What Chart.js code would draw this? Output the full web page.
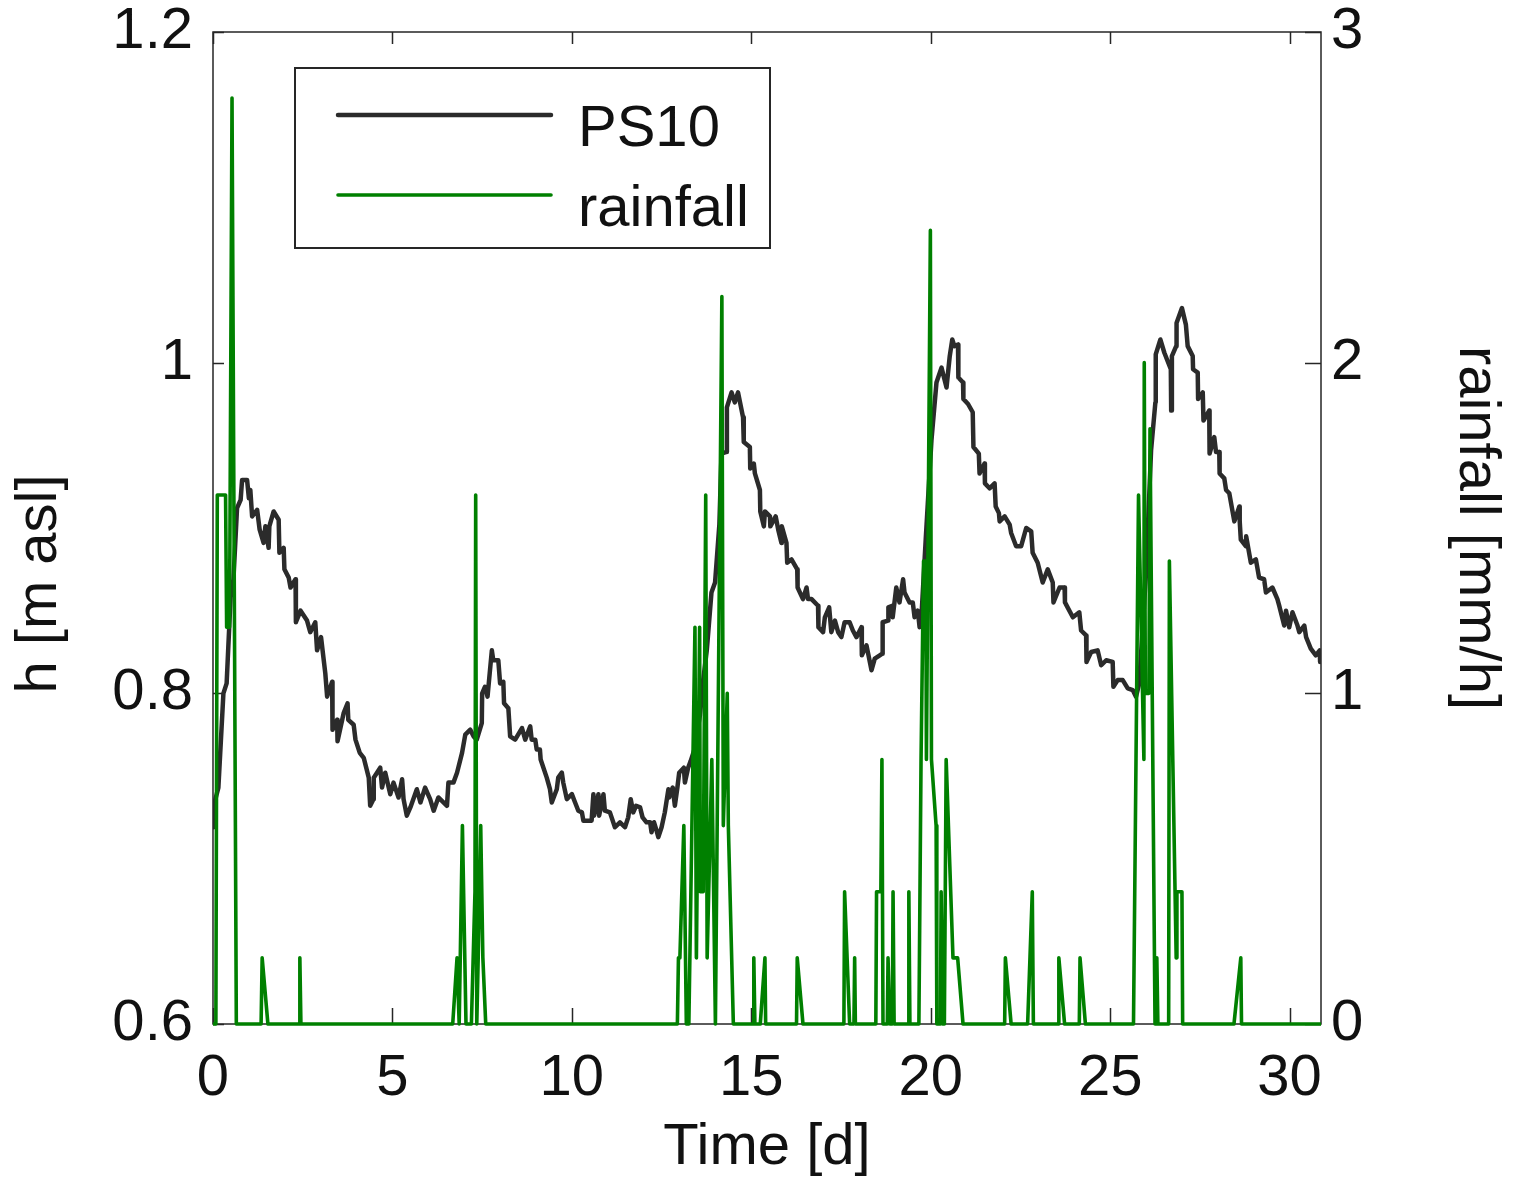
<!DOCTYPE html>
<html>
<head>
<meta charset="utf-8">
<script src="https://cdn.jsdelivr.net/npm/chart.js@4.4.0/dist/chart.umd.min.js"></script>
<style>
html, body { margin: 0; padding: 0; background: #fff; }
#wrap { width: 1526px; height: 1185px; position: relative; }
</style>
</head>
<body>
<div id="wrap"><canvas id="chart"></canvas></div>
<script>
// PS10 water level [m asl] against time [d]
var psDays = [0.01,0.02,0.15,0.29,0.38,0.49,0.57,0.67,0.77,0.81,
  0.95,1.00,1.04,1.09,1.23,1.30,1.41,1.46,1.55,1.57,
  1.69,1.83,1.85,1.97,1.99,2.11,2.16,2.30,2.31,2.44,
  2.62,2.71,2.85,2.90,3.01,3.13,3.18,3.32,3.33,3.46,
  3.47,3.64,3.75,3.77,3.92,3.97,4.09,4.20,4.34,4.38,
  4.47,4.48,4.66,4.71,4.80,4.94,5.03,5.17,5.27,5.31,
  5.40,5.50,5.68,5.78,5.91,6.05,6.15,6.28,6.52,6.56,
  6.70,6.80,6.94,7.03,7.17,7.26,7.35,7.49,7.50,7.58,
  7.65,7.77,7.81,7.95,8.00,8.09,8.11,8.23,8.28,8.42,
  8.61,8.70,8.84,8.88,8.98,9.02,9.11,9.13,9.30,9.39,
  9.44,9.58,9.62,9.72,9.76,9.86,10.00,10.09,10.18,10.28,
  10.32,10.55,10.60,10.62,10.74,10.76,10.88,10.92,11.06,11.20,
  11.34,11.48,11.57,11.64,11.71,11.79,11.90,11.97,12.08,12.18,
  12.22,12.29,12.36,12.41,12.50,12.59,12.69,12.71,12.81,12.87,
  12.94,12.99,13.12,13.15,13.24,13.31,13.43,13.57,13.66,13.76,
  13.89,13.99,14.11,14.17,14.31,14.32,14.45,14.54,14.63,14.77,
  14.79,14.96,14.97,15.07,15.10,15.24,15.25,15.35,15.38,15.52,
  15.53,15.68,15.75,15.84,15.85,15.98,16.00,16.12,16.28,16.29,
  16.44,16.54,16.58,16.68,16.86,16.87,17.00,17.05,17.17,17.23,
  17.33,17.42,17.51,17.60,17.74,17.83,17.93,18.07,18.08,18.21,
  18.35,18.44,18.58,18.65,18.66,18.81,18.82,18.93,18.94,19.04,
  19.13,19.23,19.27,19.41,19.50,19.55,19.64,19.69,19.74,19.86,
  20.02,20.16,20.30,20.44,20.53,20.60,20.66,20.76,20.77,20.90,
  20.91,21.04,21.17,21.19,21.34,21.36,21.50,21.51,21.64,21.78,
  21.81,21.90,21.92,22.06,22.20,22.24,22.38,22.52,22.66,22.80,
  22.84,22.98,23.12,23.26,23.40,23.42,23.59,23.73,23.74,23.96,
  24.14,24.19,24.33,24.34,24.47,24.65,24.75,24.89,25.07,25.09,
  25.21,25.35,25.49,25.63,25.72,25.81,26.00,26.14,26.26,26.27,
  26.40,26.51,26.69,26.70,26.72,26.84,26.85,27.00,27.11,27.16,
  27.30,27.31,27.44,27.45,27.58,27.60,27.76,27.77,27.90,27.95,
  28.04,28.05,28.18,28.23,28.32,28.41,28.46,28.60,28.61,28.64,
  28.78,28.79,28.92,29.06,29.15,29.29,29.34,29.52,29.66,29.71,
  29.85,29.90,29.99,30.08,30.22,30.27,30.41,30.46,30.59,30.73,
  30.84,30.85];
var psLevels = [0.719,0.732,0.743,0.800,0.806,0.858,0.869,0.912,0.917,0.929,
  0.929,0.918,0.923,0.907,0.911,0.899,0.891,0.901,0.888,0.901,
  0.910,0.905,0.885,0.888,0.875,0.870,0.864,0.869,0.843,0.850,
  0.844,0.837,0.843,0.826,0.834,0.812,0.798,0.807,0.778,0.784,
  0.771,0.788,0.794,0.784,0.781,0.772,0.764,0.761,0.749,0.732,
  0.736,0.749,0.755,0.743,0.752,0.739,0.746,0.737,0.748,0.736,
  0.726,0.731,0.742,0.734,0.743,0.736,0.729,0.737,0.732,0.746,
  0.746,0.752,0.764,0.775,0.778,0.774,0.772,0.782,0.800,0.804,
  0.798,0.826,0.820,0.820,0.806,0.807,0.794,0.791,0.774,0.772,
  0.779,0.772,0.780,0.772,0.772,0.766,0.766,0.760,0.749,0.742,
  0.734,0.742,0.749,0.752,0.746,0.736,0.739,0.734,0.729,0.728,
  0.723,0.723,0.739,0.726,0.739,0.726,0.739,0.729,0.728,0.719,
  0.722,0.719,0.725,0.736,0.728,0.732,0.731,0.725,0.722,0.722,
  0.716,0.722,0.717,0.713,0.719,0.728,0.742,0.737,0.743,0.732,
  0.743,0.752,0.755,0.746,0.755,0.759,0.767,0.787,0.808,0.826,
  0.861,0.867,0.902,0.945,0.946,0.973,0.982,0.976,0.982,0.967,
  0.952,0.949,0.936,0.939,0.933,0.923,0.910,0.901,0.910,0.907,
  0.901,0.907,0.899,0.891,0.901,0.891,0.879,0.881,0.875,0.864,
  0.857,0.864,0.857,0.857,0.853,0.840,0.837,0.846,0.852,0.837,
  0.844,0.837,0.834,0.843,0.843,0.838,0.834,0.840,0.823,0.829,
  0.814,0.821,0.823,0.824,0.843,0.844,0.852,0.853,0.846,0.864,
  0.855,0.869,0.861,0.855,0.855,0.846,0.850,0.840,0.846,0.893,
  0.953,0.988,0.997,0.985,1.004,1.014,1.010,1.011,0.991,0.988,
  0.978,0.975,0.970,0.949,0.945,0.933,0.939,0.927,0.924,0.927,
  0.913,0.909,0.904,0.907,0.902,0.897,0.889,0.889,0.900,0.898,
  0.885,0.879,0.867,0.875,0.867,0.855,0.864,0.864,0.855,0.846,
  0.849,0.838,0.835,0.819,0.825,0.826,0.817,0.820,0.819,0.804,
  0.808,0.808,0.803,0.802,0.798,0.806,0.873,0.947,0.976,1.005,
  1.014,1.006,0.996,0.971,1.004,1.010,1.024,1.033,1.023,1.010,
  1.004,0.996,0.994,0.978,0.982,0.965,0.971,0.945,0.955,0.946,
  0.946,0.933,0.930,0.923,0.921,0.910,0.904,0.913,0.904,0.893,
  0.889,0.895,0.879,0.881,0.870,0.869,0.861,0.864,0.857,0.853,
  0.841,0.850,0.840,0.849,0.841,0.837,0.841,0.834,0.827,0.823,
  0.826,0.819];

// rainfall [mm/h] against time [d]
var rainDays = [0,0.08,0.12,0.35,0.38,0.46,0.53,0.65,
  1.34,1.37,1.53,
  2.40,2.42,2.45,
  6.68,6.80,6.86,6.95,7.05,7.20,7.25,7.30,7.32,7.35,7.39,7.46,7.52,7.60,
  12.94,12.97,13.01,13.12,13.19,13.26,13.43,13.47,13.56,13.58,
  13.66,13.73,13.77,13.90,14.00,14.18,14.22,14.33,14.36,14.50,
  15.05,15.07,15.10,15.25,15.38,15.40,
  16.26,16.28,16.44,
  17.58,17.60,17.74,17.86,17.88,17.90,
  18.47,18.49,18.61,18.64,18.67,
  18.79,18.81,18.86,
  18.93,18.95,18.98,
  19.37,19.39,19.42,
  19.67,19.73,19.80,19.86,19.88,19.99,20.02,20.15,20.17,20.27,
  20.29,20.33,20.38,20.43,20.62,20.75,20.90,
  22.06,22.08,22.24,
  22.70,22.83,22.86,
  23.55,23.57,23.73,
  24.14,24.16,24.31,
  25.65,25.79,25.94,25.95,25.98,26.08,26.11,26.25,26.28,26.30,
  26.33,26.63,26.65,26.84,26.86,27.00,27.02,
  28.45,28.64,28.66,30.875];
var rainRates = [0,0,1.6,1.6,1.2,1.2,2.8,0,
  0,0.2,0,
  0,0.2,0,
  0,0.2,0,0.6,0,0,0.2,0.4,1.6,0,0.2,0.6,0.2,0,
  0,0.2,0.2,0.6,0,0,1.2,0.2,1.2,0.4,
  0.4,1.6,0.2,0.8,0,2.2,0.6,1.0,0.6,0,
  0,0.2,0,0,0.2,0,
  0,0.2,0,
  0,0.4,0,0,0.2,0,
  0,0.4,0.4,0.8,0,
  0,0.2,0,
  0,0.4,0,
  0,0.4,0,
  0,0.8,1.4,1.4,0.8,2.4,0.8,0.6,0,0,
  0.4,0,0,0.8,0.2,0.2,0,
  0,0.2,0,
  0,0.4,0,
  0,0.2,0,
  0,0.2,0,
  0,1.6,0.8,2.0,1.0,1.0,1.8,0,0,0.2,
  0,0,1.4,0.2,0.4,0.4,0,
  0,0.2,0,0];

// axes
var dayRange = [0, 30.875];
var xTicks = [0, 5, 10, 15, 20, 25, 30];
var hRange = [0.6, 1.2];
var hTicks = [0.6, 0.8, 1, 1.2];
var hTickLabels = ['0.6', '0.8', '1', '1.2'];
var rainRange = [0, 3];
var rainTicks = [0, 1, 2, 3];

var FONT = '"Liberation Sans", Arial, Helvetica, sans-serif';
var INK = '#111111';

function toPoints(xs, ys) {
    var pts = [];
    for (var i = 0; i < xs.length; i++) {
        pts.push({x: xs[i], y: ys[i]});
    }
    return pts;
}

function setTicks(values) {
    return function(scale) {
        scale.ticks = values.map(function(v) { return {value: v}; });
    };
}

// box round the plot with inward ticks (drawn under the lines)
var frame = {
    id: 'frame',
    beforeDatasetsDraw: function(chart) {
        var ctx = chart.ctx, a = chart.chartArea, s = chart.scales;
        ctx.save();
        ctx.strokeStyle = '#262626';
        ctx.lineWidth = 1.5;
        ctx.strokeRect(a.left, a.top, a.right - a.left, a.bottom - a.top);
        ctx.beginPath();
        s.x.ticks.forEach(function(t) {
            var px = Math.round(s.x.getPixelForValue(t.value)) + 0.5;
            ctx.moveTo(px, a.bottom); ctx.lineTo(px, a.bottom - 16);
            ctx.moveTo(px, a.top); ctx.lineTo(px, a.top + 12);
        });
        s.y.ticks.forEach(function(t) {
            var py = Math.round(s.y.getPixelForValue(t.value)) + 0.5;
            ctx.moveTo(a.left, py); ctx.lineTo(a.left + 11, py);
        });
        s.y2.ticks.forEach(function(t) {
            var py = Math.round(s.y2.getPixelForValue(t.value)) + 0.5;
            ctx.moveTo(a.right, py); ctx.lineTo(a.right - 16, py);
        });
        ctx.stroke();
        ctx.restore();
    }
};

// left axis label and legend box
var extras = {
    id: 'extras',
    afterDraw: function(chart) {
        var ctx = chart.ctx;
        ctx.save();
        ctx.font = '58px ' + FONT;
        ctx.fillStyle = INK;
        ctx.textAlign = 'center';
        ctx.textBaseline = 'middle';
        ctx.translate(40, 584);
        ctx.rotate(-Math.PI / 2);
        ctx.fillText('h [m asl]', 0, 0);
        ctx.restore();

        ctx.save();
        ctx.fillStyle = '#fff';
        ctx.fillRect(294, 67, 476, 181);
        ctx.strokeStyle = '#262626';
        ctx.lineWidth = 2;
        ctx.strokeRect(295, 68, 475, 180);
        ctx.font = '58px ' + FONT;
        ctx.textAlign = 'left';
        ctx.textBaseline = 'alphabetic';
        chart.data.datasets.forEach(function(ds, i) {
            var y = 115 + i * 80;
            ctx.strokeStyle = ds.borderColor;
            ctx.lineWidth = ds.borderWidth;
            ctx.lineCap = 'round';
            ctx.beginPath();
            ctx.moveTo(338, y);
            ctx.lineTo(551, y);
            ctx.stroke();
            ctx.fillStyle = INK;
            ctx.fillText(ds.label, 578, y + 31);
        });
        ctx.restore();
    }
};

var ctx = document.getElementById('chart');
new Chart(ctx, {
    type: 'line',
    data: {
        datasets: [{
            label: 'PS10',
            data: toPoints(psDays, psLevels),
            yAxisID: 'y',
            borderColor: '#2b2b2b',
            borderWidth: 4.5,
            borderJoinStyle: 'round',
            borderCapStyle: 'round',
            pointRadius: 0,
            tension: 0,
            fill: false,
            order: 1
        }, {
            label: 'rainfall',
            data: toPoints(rainDays, rainRates),
            yAxisID: 'y2',
            borderColor: '#008000',
            borderWidth: 3.6,
            borderJoinStyle: 'round',
            pointRadius: 0,
            tension: 0,
            fill: false,
            clip: 4,
            order: 0
        }]
    },
    options: {
        responsive: true,
        maintainAspectRatio: false,
        animation: false,
        devicePixelRatio: 1,
        layout: { padding: { top: 32, left: 0, right: 0, bottom: 0 } },
        plugins: { legend: { display: false }, tooltip: { enabled: false } },
        scales: {
            x: {
                type: 'linear',
                position: 'bottom',
                min: dayRange[0],
                max: dayRange[1],
                afterBuildTicks: setTicks(xTicks),
                afterFit: function(s) { s.height = 161; s.paddingLeft = 0; s.paddingRight = 0; },
                grid: { display: false, drawTicks: false },
                border: { display: false },
                ticks: { font: { family: FONT, size: 58 }, color: INK, padding: 20, maxRotation: 0, autoSkip: false },
                title: { display: true, text: 'Time [d]', font: { family: FONT, size: 58 }, color: INK, padding: { top: 0, bottom: 2 } }
            },
            y: {
                type: 'linear',
                position: 'left',
                min: hRange[0],
                max: hRange[1],
                afterBuildTicks: setTicks(hTicks),
                afterFit: function(s) { s.width = 213; s.paddingTop = 0; s.paddingBottom = 0; },
                grid: { display: false, drawTicks: false },
                border: { display: false },
                ticks: { font: { family: FONT, size: 58 }, color: INK, padding: 20,
                    callback: function(v, i) { return hTickLabels[i]; } },
                title: { display: false }
            },
            y2: {
                type: 'linear',
                position: 'right',
                min: rainRange[0],
                max: rainRange[1],
                afterBuildTicks: setTicks(rainTicks),
                afterFit: function(s) { s.width = 205; s.paddingTop = 0; s.paddingBottom = 0; },
                grid: { display: false, drawTicks: false },
                border: { display: false },
                ticks: { font: { family: FONT, size: 58 }, color: INK, padding: 10 },
                title: { display: true, text: 'rainfall [mm/h]', font: { family: FONT, size: 58 }, color: INK, padding: { top: 15, bottom: 0 } }
            }
        }
    },
    plugins: [frame, extras]
});
</script>
</body>
</html>
